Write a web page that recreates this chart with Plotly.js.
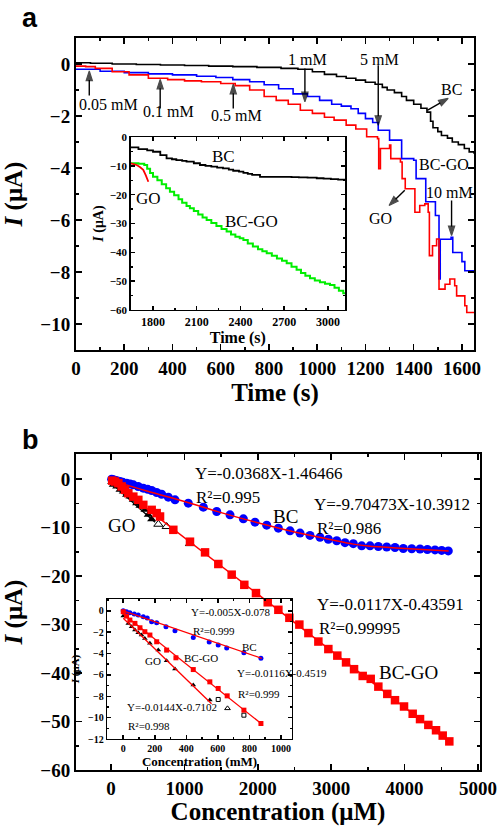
<!DOCTYPE html>
<html><head><meta charset="utf-8">
<script src="https://cdn.plot.ly/plotly-3.0.1.min.js"></script>
<style>html,body{margin:0;padding:0;background:#fff}</style>
</head><body><div id="chart" style="width:500px;height:826px"></div>
<script>
// ---------- Panel a: main amperometric curves ----------
const bcT    = [0,60,150,250,350,450,550,650,750,850,920,980,1030,1080,1120,1160,1200,1240,1270,1290,1320,1350,1370,1400,1430,1455,1470,1480,1500,1515,1540,1560,1585,1610,1630,1650];
const bcI    = [0.05,0.03,0.0,-0.02,-0.04,-0.06,-0.08,-0.1,-0.13,-0.17,-0.2,-0.3,-0.4,-0.48,-0.55,-0.62,-0.7,-0.78,-0.9,-1.0,-1.1,-1.25,-1.4,-1.55,-1.7,-1.85,-2.2,-2.45,-2.6,-2.75,-2.85,-3.0,-3.1,-3.25,-3.38,-3.45];
const bcgoT  = [0,100,200,300,400,500,580,650,720,780,840,900,960,1010,1060,1100,1140,1170,1200,1230,1253,1300,1350,1400,1410,1450,1490,1505,1510,1555,1562,1600,1612,1650];
const bcgoI  = [-0.2,-0.28,-0.33,-0.38,-0.42,-0.47,-0.52,-0.6,-0.68,-0.8,-0.95,-1.15,-1.25,-1.4,-1.55,-1.62,-1.72,-1.9,-2.1,-2.25,-2.55,-2.93,-3.64,-3.7,-4.41,-5.3,-5.83,-8.27,-6.74,-6.67,-7.25,-7.6,-7.95,-7.95];
const goT    = [0,40,80,150,220,300,380,450,520,600,660,720,780,830,880,930,980,1030,1070,1120,1160,1205,1250,1255,1262,1300,1305,1345,1352,1365,1400,1405,1425,1446,1460,1465,1478,1495,1505,1530,1550,1570,1578,1608,1612,1620,1650];
const goI    = [-0.08,-0.1,-0.17,-0.3,-0.42,-0.55,-0.6,-0.65,-0.68,-0.75,-0.83,-1.0,-1.25,-1.4,-1.55,-1.78,-1.9,-2.05,-2.16,-2.35,-2.5,-2.8,-2.87,-4.03,-3.25,-3.12,-3.64,-3.77,-4.41,-4.8,-4.8,-5.7,-5.44,-5.38,-5.7,-7.37,-6.99,-6.73,-8.66,-8.47,-8.27,-8.53,-8.92,-8.92,-9.3,-9.56,-9.56];

// arrows of panel a: tail (t, I) -> head (t, I)
const arrTailT = [55,349,652,949,1253,1456,1363,1557];
const arrTailI = [-1.21,-1.71,-1.71,-0.17,-0.05,-1.78,-4.86,-5.25];
const arrHeadT = [55,349,652,949,1253,1543,1298,1557];
const arrHeadI = [-0.27,-0.59,-0.78,-1.45,-2.36,-1.32,-5.44,-6.6];

// ---------- Panel a: inset ----------
const inBcT   = [1647,1700,1760,1800,1850,1893,1930,1960,2000,2030,2080,2122,2160,2200,2240,2280,2320,2350,2390,2420,2450,2480,2534,2600,2694,2750,2800,2860,2923,2970,3020,3070,3117];
const inBcI   = [-3.6,-4.2,-4.6,-5.1,-6.3,-7.4,-7.7,-8.0,-8.3,-8.5,-9.1,-9.7,-10.0,-10.3,-10.6,-10.9,-11.3,-11.7,-12.0,-12.4,-12.8,-13.1,-13.8,-13.8,-13.8,-13.9,-14.0,-14.1,-14.3,-14.4,-14.6,-14.8,-14.9];
const inBcgoT = [1647,1700,1740,1760,1780,1800,1830,1860,1890,1916,1945,1975,2000,2030,2053,2080,2110,2140,2168,2200,2235,2270,2305,2335,2365,2395,2420,2450,2485,2520,2550,2580,2615,2650,2685,2717,2750,2785,2815,2845,2877,2910,2945,2980,3014,3045,3075,3105,3117];
const inBcgoI = [-9.1,-9.3,-9.7,-11.0,-12.5,-13.8,-15.0,-16.4,-17.8,-19.0,-20.2,-21.6,-22.8,-23.9,-24.7,-25.7,-26.9,-27.9,-28.8,-29.8,-30.9,-31.9,-32.8,-33.8,-34.6,-35.1,-35.7,-36.9,-38.0,-38.9,-39.6,-40.3,-41.2,-42.1,-42.9,-43.8,-45.0,-46.0,-47.2,-48.1,-49.0,-49.8,-50.4,-50.9,-51.3,-52.3,-53.3,-54.2,-54.2];
const inGoT   = [1647,1688,1710,1733,1750,1768];
const inGoI   = [-9.1,-9.7,-10.4,-11.4,-13.2,-15.5];

// ---------- Panel b: calibration ----------
const bcC   = [9,30,50,70,90,123,160,213,260,304,370,440,500,554,622,690,781,872,1053,1258,1440,1621,1803,1962,2121,2280,2439,2575,2711,2847,2961,3075,3188,3301,3415,3529,3642,3756,3869,3982,4097,4210,4310,4414,4505,4595];
const bcY   = [0,-0.1,-0.2,-0.3,-0.4,-0.49,-0.65,-0.82,-1.0,-1.17,-1.5,-1.86,-2.1,-2.34,-2.76,-3.1,-3.71,-4.27,-4.95,-5.78,-6.68,-7.36,-8.19,-8.87,-9.49,-10.1,-10.66,-11.13,-11.6,-12.0,-12.4,-12.7,-13.1,-13.3,-13.75,-13.75,-13.9,-14.0,-14.1,-14.3,-14.35,-14.4,-14.5,-14.6,-14.7,-14.8];
const bcFitC = [20,500,1000,1500,2000,2500,3000,3300,3500,4000,4600];
const bcFitY = [-0.3,-2.5,-4.6,-6.9,-9.0,-10.9,-12.5,-13.4,-13.8,-14.3,-14.8];
const bcgoC = [16,54,100,145,191,236,304,372,440,554,622,668,849,1076,1281,1462,1644,1816,1975,2135,2280,2430,2566,2689,2825,2961,3083,3202,3311,3429,3538,3642,3764,3869,3992,4110,4210,4323,4428,4519,4609];
const bcgoY = [-0.3,-0.49,-0.82,-1.5,-2.2,-2.9,-3.6,-4.27,-5.3,-6.33,-7.0,-7.7,-10.45,-12.9,-15.1,-17.5,-19.7,-21.8,-23.5,-25.4,-26.95,-28.6,-30.0,-31.75,-33.5,-35.05,-36.4,-37.8,-39.2,-40.6,-41.2,-42.8,-44.3,-45.6,-46.9,-48.4,-49.5,-50.7,-51.8,-52.9,-54.1];
const bcgoFitC = [0,4610];
const bcgoFitY = [-0.4,-54.2];
const goC   = [10,31,78,123,168,213,259,304,350,395,463,508,554];
const goY   = [-0.6,-1.17,-1.5,-2.2,-2.55,-3.2,-3.6,-4.27,-4.95,-5.5,-6.33,-7.36,-8.25];
const goOpenC = [645,758,1076];
const goOpenY = [-9.3,-9.77,-13.3];
const goFitC = [0,600];
const goFitY = [-0.8,-8.9];

// ---------- Panel b: inset ----------
const ibBcC = [0,21,42,70,95,127,152,180,212,271,328,444,545,602,656,765,873];
const ibBcY = [0,-0.09,-0.19,-0.31,-0.4,-0.56,-0.68,-1.03,-1.12,-1.5,-1.87,-2.49,-2.93,-3.2,-3.49,-3.92,-4.45];
const ibBcFitC = [0,878];
const ibBcFitY = [0,-4.45];
const ibBcgoC = [0,21,42,74,106,137,169,212,275,334,444,549,602,659,765,873];
const ibBcgoY = [-0.09,-0.5,-0.87,-1.18,-1.59,-1.96,-2.27,-2.9,-3.68,-4.4,-5.5,-6.65,-7.27,-7.96,-9.3,-10.55];
const ibBcgoFitC = [0,878];
const ibBcgoFitY = [-0.3,-10.6];
const ibBcgoOpenC = [602,765];
const ibBcgoOpenY = [-8.3,-9.77];
const ibGoC = [0,32,53,74,95,116,137,169,222,275,328,444,549];
const ibGoY = [-0.5,-1.18,-1.5,-1.8,-2.05,-2.27,-2.59,-3.05,-3.68,-4.67,-5.45,-6.95,-8.35];
const ibGoOpenC = [661];
const ibGoOpenY = [-9.13];
const ibGoFitC = [0,560];
const ibGoFitY = [-0.7,-8.7];

const SERIF = 'Liberation Serif, Times New Roman, serif';
const RED = '#ff0000', BLUE = '#0000ff', GREEN = '#00ee00';

const traces = [
  {x:bcT, y:bcI, xaxis:'x', yaxis:'y', mode:'lines', line:{color:'#000', width:1.6, shape:'hv'}},
  {x:bcgoT, y:bcgoI, xaxis:'x', yaxis:'y', mode:'lines', line:{color:BLUE, width:1.6, shape:'hv'}},
  {x:goT, y:goI, xaxis:'x', yaxis:'y', mode:'lines', line:{color:RED, width:1.6, shape:'hv'}},

  {x:inBcT, y:inBcI, xaxis:'x2', yaxis:'y2', mode:'lines', line:{color:'#000', width:1.8, shape:'hv'}},
  {x:inBcgoT, y:inBcgoI, xaxis:'x2', yaxis:'y2', mode:'lines', line:{color:GREEN, width:2, shape:'hv'}},
  {x:inGoT, y:inGoI, xaxis:'x2', yaxis:'y2', mode:'lines', line:{color:RED, width:1.8}},

  {x:goC, y:goY, xaxis:'x3', yaxis:'y3', mode:'markers', marker:{symbol:'triangle-up', size:8, color:'#000'}},
  {x:goOpenC, y:goOpenY, xaxis:'x3', yaxis:'y3', mode:'markers', marker:{symbol:'triangle-up-open', size:8, color:'#000', line:{width:1}}},
  {x:goFitC, y:goFitY, xaxis:'x3', yaxis:'y3', mode:'lines', line:{color:'#000', width:1.3}},
  {x:bcC, y:bcY, xaxis:'x3', yaxis:'y3', mode:'markers', marker:{symbol:'circle', size:9, color:BLUE}},
  {x:bcgoC, y:bcgoY, xaxis:'x3', yaxis:'y3', mode:'markers', marker:{symbol:'square', size:8.5, color:RED}},
  {x:bcFitC, y:bcFitY, xaxis:'x3', yaxis:'y3', mode:'lines', line:{color:RED, width:1.5, shape:'spline'}},
  {x:bcgoFitC, y:bcgoFitY, xaxis:'x3', yaxis:'y3', mode:'lines', line:{color:RED, width:1.5}},

  {x:ibGoC, y:ibGoY, xaxis:'x4', yaxis:'y4', mode:'markers', marker:{symbol:'triangle-up', size:5, color:'#000'}},
  {x:ibGoOpenC, y:ibGoOpenY, xaxis:'x4', yaxis:'y4', mode:'markers', marker:{symbol:'triangle-up-open', size:5, color:'#000', line:{width:1}}},
  {x:ibBcgoOpenC, y:ibBcgoOpenY, xaxis:'x4', yaxis:'y4', mode:'markers', marker:{symbol:'square-open', size:4, color:'#000', line:{width:1}}},
  {x:ibGoFitC, y:ibGoFitY, xaxis:'x4', yaxis:'y4', mode:'lines', line:{color:RED, width:1.3}},
  {x:ibBcC, y:ibBcY, xaxis:'x4', yaxis:'y4', mode:'markers', marker:{symbol:'circle', size:5, color:BLUE}},
  {x:ibBcFitC, y:ibBcFitY, xaxis:'x4', yaxis:'y4', mode:'lines', line:{color:RED, width:1.3}},
  {x:ibBcgoC, y:ibBcgoY, xaxis:'x4', yaxis:'y4', mode:'markers', marker:{symbol:'square', size:5, color:RED}},
  {x:ibBcgoFitC, y:ibBcgoFitY, xaxis:'x4', yaxis:'y4', mode:'lines', line:{color:RED, width:1.3}}
];

// arrows drawn as line + arrow-head marker traces
for (let i = 0; i < arrTailT.length; i++) {
  traces.push({x:[arrTailT[i], arrHeadT[i]], y:[arrTailI[i], arrHeadI[i]], xaxis:'x', yaxis:'y',
    mode:'lines+markers', line:{color:'#000', width:1.4},
    marker:{symbol:['circle','arrow'], size:[0,10], angleref:'previous', color:'#000', line:{width:1.2, color:'#000'}}});
}

function ax(o) {
  return Object.assign({
    showgrid:false, zeroline:false, showline:true, linecolor:'#000', linewidth:2,
    mirror:'ticks', ticks:'inside', tickcolor:'#000', tickwidth:1.5, ticklen:6,
    tickfont:{family:SERIF, size:19, color:'#000', weight:'bold'}
  }, o);
}
const ytitle = (size) => ({text:'<i>I</i> (μA)', font:{family:SERIF, size:size, color:'#000', weight:'bold'}});

const layout = {
  width:500, height:826, margin:{l:0,r:0,t:0,b:0},
  paper_bgcolor:'#fff', plot_bgcolor:'rgba(0,0,0,0)', showlegend:false,
  xaxis: ax({domain:[0.152,0.948], anchor:'y', range:[0,1650], tick0:0, dtick:200,
    minor:{dtick:100, ticks:'inside', ticklen:3, tickcolor:'#000', tickwidth:1.5},
    title:{text:'Time (s)', standoff:6, font:{family:SERIF, size:25, color:'#000', weight:'bold'}}}),
  yaxis: ax({domain:[0.5763,0.954], anchor:'x', range:[-11,1], tick0:0, dtick:2,
    minor:{dtick:1, ticks:'inside', ticklen:3, tickcolor:'#000', tickwidth:1.5},
    title:Object.assign(ytitle(25), {standoff:12})}),
  xaxis2: ax({domain:[0.2614,0.69], anchor:'y2', range:[1647,3117], tick0:1800, dtick:300, ticklen:4,
    minor:{dtick:150, ticks:'inside', ticklen:2, tickcolor:'#000'}, linewidth:1.5,
    tickfont:{family:SERIF, size:12, color:'#000', weight:'bold'},
    title:{text:'Time (s)', standoff:4, font:{family:SERIF, size:16, color:'#000', weight:'bold'}}}),
  yaxis2: ax({domain:[0.6247,0.8341], anchor:'x2', range:[-60,0], tick0:0, dtick:10, ticklen:4,
    minor:{dtick:5, ticks:'inside', ticklen:2, tickcolor:'#000'}, linewidth:1.5,
    tickfont:{family:SERIF, size:11, color:'#000', weight:'bold'},
    title:Object.assign(ytitle(14), {standoff:3})}),
  xaxis3: ax({domain:[0.152,0.96], anchor:'y3', range:[-477,5027], tick0:0, dtick:1000,
    minor:{dtick:500, ticks:'inside', ticklen:3, tickcolor:'#000', tickwidth:1.5},
    title:{text:'Concentration (μM)', standoff:6, font:{family:SERIF, size:25, color:'#000', weight:'bold'}}}),
  yaxis3: ax({domain:[0.0678,0.4504], anchor:'x3', range:[-60,5.2], tick0:0, dtick:10,
    minor:{dtick:5, ticks:'inside', ticklen:3, tickcolor:'#000', tickwidth:1.5},
    title:Object.assign(ytitle(25), {standoff:12})}),
  xaxis4: ax({domain:[0.214,0.584], anchor:'y4', range:[-103,1070], tick0:0, dtick:200, ticklen:4,
    minor:{dtick:100, ticks:'inside', ticklen:2, tickcolor:'#000'}, linewidth:1.2,
    tickfont:{family:SERIF, size:10, color:'#000', weight:'bold'},
    title:{text:'Concentration (mM)', standoff:2, font:{family:SERIF, size:13, color:'#000', weight:'bold'}}}),
  yaxis4: ax({domain:[0.1053,0.2748], anchor:'x4', range:[-12,1.1], tick0:0, dtick:2, ticklen:4,
    minor:{dtick:1, ticks:'inside', ticklen:2, tickcolor:'#000'}, linewidth:1.2,
    tickfont:{family:SERIF, size:10, color:'#000', weight:'bold'},
    title:Object.assign(ytitle(11), {standoff:6})}),
  annotations: []
};

const A = layout.annotations;
function txt(xr, yr, x, y, text, size, xanchor) {
  A.push({xref:xr, yref:yr, x:x, y:y, text:text, showarrow:false, xanchor:xanchor||'center', yanchor:'middle',
    font:{family:SERIF, size:size, color:'#000'}});
}
// panel letters
A.push({xref:'paper', yref:'paper', x:30/500, y:1-18/826, text:'a', showarrow:false, xanchor:'center', yanchor:'middle',
  font:{family:'Liberation Sans, Arial, sans-serif', size:27, color:'#000', weight:'bold'}});
A.push({xref:'paper', yref:'paper', x:30/500, y:1-440/826, text:'b', showarrow:false, xanchor:'center', yanchor:'middle',
  font:{family:'Liberation Sans, Arial, sans-serif', size:27, color:'#000', weight:'bold'}});

// panel a labels
txt('x','y',135,-1.56,'0.05 mM',16);
txt('x','y',385,-1.83,'0.1 mM',16);
txt('x','y',667,-1.98,'0.5 mM',16);
txt('x','y',961,0.18,'1 mM',16);
txt('x','y',1260,0.18,'5 mM',16);
txt('x','y',1557,-1.0,'BC',16);
txt('x','y',1525,-3.87,'BC-GO',16);
txt('x','y',1263,-5.96,'GO',16);
txt('x','y',1550,-4.93,'10 mM',16);

// inset a labels
txt('x2','y2',2282,-6.6,'BC',17);
txt('x2','y2',1768,-21.3,'GO',17);
txt('x2','y2',2477,-29.4,'BC-GO',17);

// panel b labels
txt('x3','y3',2143,1.24,'Y=-0.0368X-1.46466',17);
txt('x3','y3',1131,-3.71,'R²=0.995',17,'left');
txt('x3','y3',3824,-5.15,'Y=-9.70473X-10.3912',17);
txt('x3','y3',2371,-7.7,'BC',19);
txt('x3','y3',2779,-10.1,'R²=0.986',17,'left');
txt('x3','y3',146,-9.63,'GO',19);
txt('x3','y3',3801,-25.8,'Y=-0.0117X-0.43591',17);
txt('x3','y3',2802,-30.9,'R²=0.99995',17,'left');
txt('x3','y3',4050,-39.9,'BC-GO',19);

// inset b labels
txt('x4','y4',680,-0.09,'Y=-0.005X-0.078',11);
txt('x4','y4',427,-1.87,'R²=0.999',11,'left');
txt('x4','y4',803,-3.36,'BC',11);
txt('x4','y4',493,-4.39,'BC-GO',11);
txt('x4','y4',190,-4.7,'GO',11);
txt('x4','y4',1004,-5.85,'Y=-0.0116X-0.4519',11);
txt('x4','y4',713,-7.79,'R²=0.999',11,'left');
txt('x4','y4',307,-9.03,'Y=-0.0144X-0.7102',11);
txt('x4','y4',17,-10.78,'R²=0.998',11,'left');

Plotly.newPlot('chart', traces, layout, {staticPlot:true, displayModeBar:false});
</script></body></html>
